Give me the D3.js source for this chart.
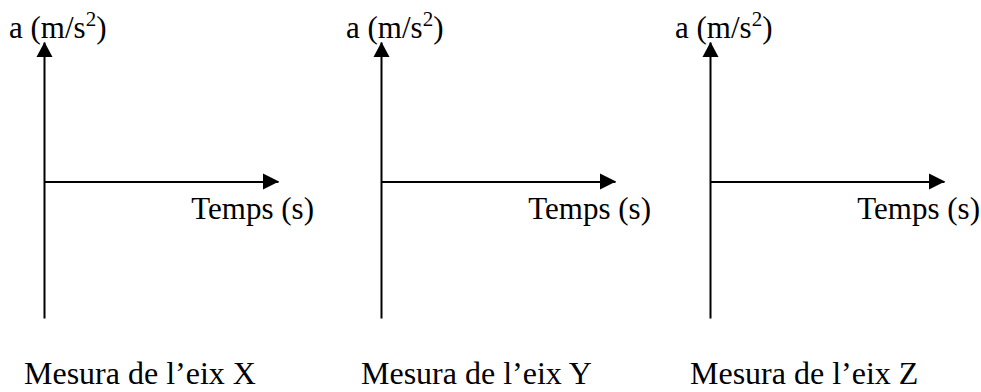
<!DOCTYPE html>
<html>
<head>
<meta charset="utf-8">
<script src="https://cdn.jsdelivr.net/npm/d3@7"></script>
<style>
  body { margin: 0; background: #fff; }
  text { font-family: "Liberation Serif", "Times New Roman", serif; fill: #000; }
</style>
</head>
<body>
<script>
// three empty sketch axes, one per accelerometer axis
var axisNames = ["X", "Y", "Z"];
var yLabel = "a (m/s";
var xLabel = "Temps (s)";
var captionPrefix = "Mesura de l\u2019eix ";
var aDomain = [-0.98, 1];   // acceleration, arbitrary units
var tDomain = [0, 1];       // time, arbitrary units

var width = 981, height = 392;

var svg = d3.select("body").append("svg")
    .attr("width", width)
    .attr("height", height);

// where each panel's vertical axis sits
var panelX = d3.scalePoint()
    .domain(axisNames)
    .range([44, 710]);

var y = d3.scaleLinear().domain(aDomain).range([318, 42]);
var x = d3.scaleLinear().domain(tDomain).range([0, 234]);

var panels = svg.selectAll("g.panel")
    .data(axisNames)
    .enter()
    .append("g")
    .attr("class", "panel")
    .attr("transform", d => "translate(" + (panelX(d) + (d === "Y" ? 4 : 0)) + ",0)");

// vertical axis (no ticks)
panels.append("g")
    .call(d3.axisLeft(y).tickValues([]).tickSizeOuter(0))
    .call(g => g.select(".domain").attr("stroke", "#000").attr("stroke-width", 2));

// horizontal axis through a = 0
panels.append("g")
    .attr("transform", "translate(0," + y(0) + ")")
    .call(d3.axisBottom(x).tickValues([]).tickSizeOuter(0))
    .call(g => g.select(".domain").attr("stroke", "#000").attr("stroke-width", 2));

// arrow heads
var yTip = y.range()[1];
panels.append("path")
    .attr("d", "M0.5," + yTip + "L-7.5," + (yTip + 15) + "L8.5," + (yTip + 15) + "Z")
    .attr("fill", "#000");

var xTip = x.range()[1] + 1;
panels.append("path")
    .attr("d", "M" + xTip + "," + y(0) + "L" + (xTip - 16) + "," + (y(0) - 8) + "L" + (xTip - 16) + "," + (y(0) + 8) + "Z")
    .attr("fill", "#000");

// y label with superscript
var yl = panels.append("text")
    .attr("x", -35)
    .attr("y", 38)
    .attr("font-size", 31)
    .text(yLabel);
yl.append("tspan")
    .attr("dy", -12)
    .attr("font-size", 21)
    .text("2");
yl.append("tspan")
    .attr("dy", 12)
    .text(")");

// x label
panels.append("text")
    .attr("x", xTip + 35)
    .attr("y", 219)
    .attr("text-anchor", "end")
    .attr("font-size", 31)
    .text(xLabel);

// caption
panels.append("text")
    .attr("x", -20)
    .attr("y", 384)
    .attr("font-size", 32)
    .text(d => captionPrefix + d);
</script>
</body>
</html>
